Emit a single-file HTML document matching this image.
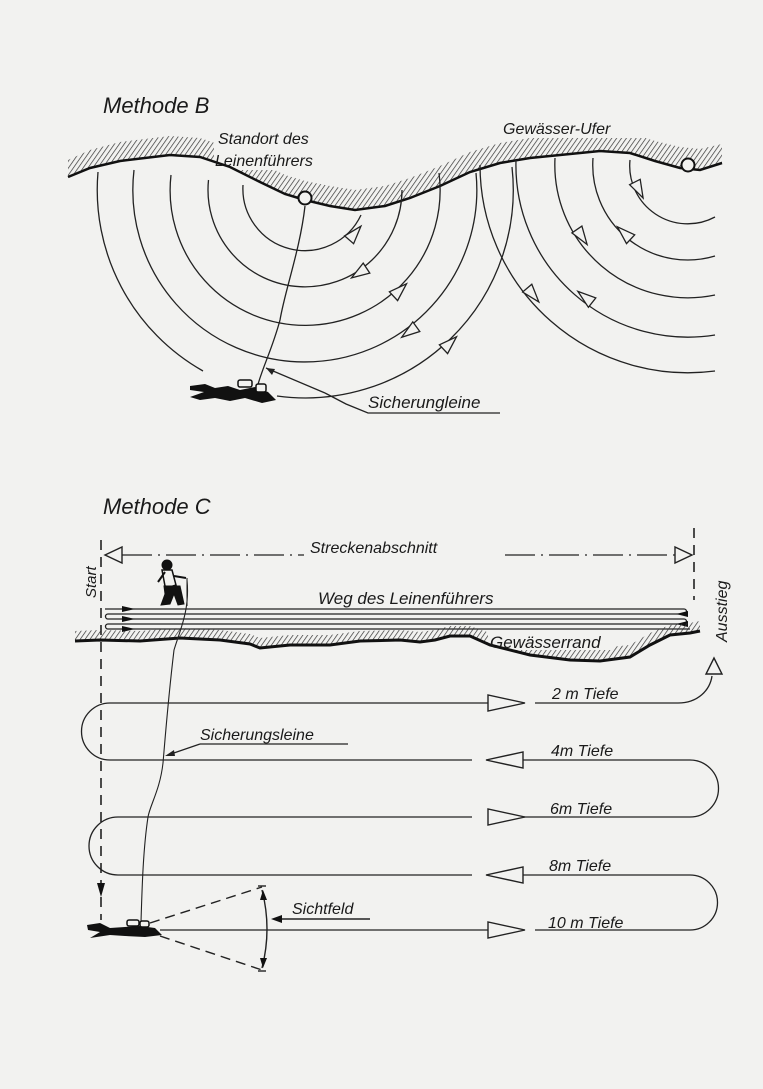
<!DOCTYPE html>
<html><head><meta charset="utf-8"><style>
html,body{margin:0;padding:0;background:#f2f2f0;}
svg{display:block;}
text{font-family:"Liberation Sans",sans-serif;font-style:italic;fill:#1a1a1a;}
</style></head><body>
<svg width="763" height="1089" viewBox="0 0 763 1089" xmlns="http://www.w3.org/2000/svg">
<defs>
<pattern id="h" width="4" height="4" patternUnits="userSpaceOnUse" patternTransform="rotate(35)">
<line x1="0" y1="0" x2="0" y2="4" stroke="#333" stroke-width="1.4"/>
</pattern>
</defs>
<rect width="763" height="1089" fill="#f2f2f0"/>

<!-- ===== Methode B ===== -->
<text x="103" y="113" font-size="22">Methode B</text>

<polygon fill="url(#h)" points="68,177 90,168 120,161 170,155 200,157 230,167 260,182 285,194 305,200 330,206 355,210 385,206 410,198 440,186 470,172 500,163 530,158 570,154 600,151 630,153 655,161 680,168 700,170 722,163 722,144 700,149 680,147 655,141 630,133 600,131 570,134 530,138 500,143 470,152 440,166 410,178 385,186 355,190 330,186 305,181 285,175 260,163 230,148 200,138 170,136 120,142 90,150 68,160"/>
<rect x="214" y="125" width="130" height="45" fill="#f2f2f0"/>
<rect x="500" y="118" width="150" height="20" fill="#f2f2f0"/>
<polyline fill="none" stroke="#111" stroke-width="2.5" points="68,177 90,168 120,161 170,155 200,157 230,167 260,182 285,194 305,200 330,206 355,210 385,206 410,198 440,186 470,172 500,163 530,158 570,154 600,151 630,153 655,161 680,168 700,170 722,163"/>
<text x="218" y="144" font-size="16">Standort des</text>
<text x="215" y="166" font-size="16">Leinenführers</text>
<text x="503" y="134" font-size="16">Gewässer-Ufer</text>

<g fill="none" stroke="#222" stroke-width="1.3">
<path d="M243,185 A62,62 0 0 0 361,215"/>
<path d="M208.5,180 A97,97 0 1 0 402,190"/>
<path d="M171,175 A135,135 0 1 0 439,173"/>
<path d="M134,170 A172,172 0 1 0 476,173"/>
<path d="M98,172 A208,208 0 0 0 203,371 M277,396 A208,208 0 0 0 512,167"/>
<path d="M630,160 A58,58 0 0 0 715,217"/>
<path d="M593,158 A95,95 0 0 0 715,256"/>
<path d="M555,158 A133,133 0 0 0 715,295"/>
<path d="M516,160 A172,172 0 0 0 715,335"/>
<path d="M480,165 A208,208 0 0 0 715,371"/>
<path d="M305,206 C300,250 285,290 280,320 C272,350 262,368 257,388"/>
<path d="M325,393 L266,368"/>
<path d="M325,393 L346,404 L368,413 L500,413"/>
</g>
<polygon points="266,368 275,369 272,375" fill="#222"/>
<circle cx="305" cy="198" r="6.5" fill="#f2f2f0" stroke="#111" stroke-width="2"/>
<circle cx="688" cy="165" r="6.5" fill="#f2f2f0" stroke="#111" stroke-width="2"/>

<g fill="#f2f2f0" stroke="#222" stroke-width="1.3">
<polygon points="360.9,226.2 353.6,243.7 344.6,235.9"/>
<polygon points="351.5,277.9 363.2,263.1 369.8,273.1"/>
<polygon points="406.5,283.8 397.6,300.6 389.4,291.8"/>
<polygon points="401.7,337.3 412.8,321.9 419.8,331.5"/>
<polygon points="456.5,336.8 447.6,353.6 439.4,344.8"/>
<polygon points="643.1,198 629.6,184.7 640.2,179.3"/>
<polygon points="587.1,244.5 571.9,232.9 581.9,226.1"/>
<polygon points="617.4,226.8 634.7,234.8 626.5,243.6"/>
<polygon points="538.8,301.9 522.6,292 531.8,284.2"/>
<polygon points="577.9,291.4 595.8,297.9 588.4,307.3"/>
</g>

<g fill="#111">
<path d="M190,386 L205,384 L215,388 L228,386 L240,390 L255,387 L268,392 L276,400 L262,403 L245,398 L230,401 L215,398 L200,400 L190,397 L204,392 L190,390 Z"/>
<rect x="238" y="380" width="14" height="7" rx="2" fill="#f2f2f0" stroke="#111" stroke-width="1.5"/>
<rect x="256" y="384" width="10" height="8" rx="2" fill="#f2f2f0" stroke="#111" stroke-width="1.5"/>
</g>
<text x="368" y="408" font-size="17">Sicherungleine</text>

<!-- ===== Methode C ===== -->
<text x="103" y="514" font-size="22">Methode C</text>

<g fill="none" stroke="#222" stroke-width="1.3">
<line x1="101" y1="540" x2="101" y2="920" stroke-dasharray="10,7" stroke-width="1.6"/>
<line x1="694" y1="528" x2="694" y2="600" stroke-dasharray="10,7" stroke-width="1.6"/>
<line x1="122" y1="555" x2="304" y2="555" stroke-dasharray="30,6,2,6"/>
<line x1="505" y1="555" x2="675" y2="555" stroke-dasharray="30,6,2,6"/>
</g>
<polygon points="105,555 122,547 122,563" fill="#f2f2f0" stroke="#222" stroke-width="1.4"/>
<polygon points="692,555 675,547 675,563" fill="#f2f2f0" stroke="#222" stroke-width="1.4"/>
<text x="310" y="553" font-size="16">Streckenabschnitt</text>
<text transform="translate(96,598) rotate(-90)" font-size="15">Start</text>
<text transform="translate(727,642) rotate(-90)" font-size="16">Ausstieg</text>

<g fill="#111" stroke="#111">
<circle cx="167" cy="565" r="5"/>
<path d="M162,570 L172,570 L176,585 L170,587 L165,586 Z" fill="#f2f2f0" stroke-width="1.5"/>
<path d="M158,582 L165,572" stroke-width="2"/>
<path d="M174,576 L186,578" stroke-width="2"/>
<path d="M164,586 L180,586 L184,604 L178,605 L174,594 L170,604 L161,605 L165,594 Z"/>
<path d="M187,578 L187,606" stroke-width="1"/>
</g>

<g fill="none" stroke="#222" stroke-width="1.3">
<path d="M105,609 H684 A2.5,2.5 0 0 1 684,614 H108 A2.5,2.5 0 0 0 108,619 H684 A2.5,2.5 0 0 1 684,624 H108 A2.5,2.5 0 0 0 108,629 H690"/>
</g>
<g fill="#111">
<polygon points="135,609 122,606 122,612"/>
<polygon points="135,619 122,616 122,622"/>
<polygon points="135,629 122,626 122,632"/>
<polygon points="676,614 688,611 688,617"/>
<polygon points="676,624 688,621 688,627"/>
</g>
<text x="318" y="604" font-size="17">Weg des Leinenführers</text>

<polygon fill="url(#h)" points="75,641 100,640 140,641 180,638 220,640 250,644 260,648 290,645 330,645 360,641 400,640 420,642 435,640 450,636 470,636 490,645 530,655 570,660 600,661 630,657 650,645 670,635 690,633 700,631 700,621 690,623 670,625 650,633 630,645 600,648 570,645 530,640 490,633 470,626 450,626 435,630 420,632 400,630 360,631 330,635 290,635 260,638 250,634 220,630 180,628 140,631 100,630 75,631"/>
<rect x="488" y="632" width="125" height="18" fill="#f2f2f0"/>
<polyline fill="none" stroke="#111" stroke-width="3" points="75,641 100,640 140,641 180,638 220,640 250,644 260,648 290,645 330,645 360,641 400,640 420,642 435,640 450,636 470,636 490,645 530,655 570,660 600,661 630,657 650,645 670,635 690,633 700,631"/>
<text x="490" y="648" font-size="17">Gewässerrand</text>

<path d="M187,580 C190,610 180,630 174,650 C168,700 165,740 163,763 C160,790 150,805 148,817 C143,850 142,890 141,922" fill="none" stroke="#222" stroke-width="1.1"/>

<g fill="none" stroke="#222" stroke-width="1.3">
<path d="M488,703 H110 A28.5,28.5 0 0 0 110,760 H472"/>
<path d="M535,703 H678 C698,703 710,690 712,676"/>
<path d="M523,760 H690 A28.5,28.5 0 0 1 690,817 H488"/>
<path d="M472,817 H118 A29,29 0 0 0 118,875 H472"/>
<path d="M523,875 H690 A27.5,27.5 0 0 1 690,930 H535"/>
<path d="M160,930 H488"/>
</g>
<g fill="#f2f2f0" stroke="#222" stroke-width="1.4">
<polygon points="714,658 706,674 722,674"/>
<polygon points="525,703 488,695 488,711"/>
<polygon points="486,760 523,752 523,768"/>
<polygon points="525,817 488,809 488,825"/>
<polygon points="486,875 523,867 523,883"/>
<polygon points="525,930 488,922 488,938"/>
</g>
<text x="552" y="699" font-size="16">2 m Tiefe</text>
<text x="551" y="756" font-size="16">4m  Tiefe</text>
<text x="550" y="814" font-size="16">6m  Tiefe</text>
<text x="549" y="871" font-size="16">8m Tiefe</text>
<text x="548" y="928" font-size="16">10 m  Tiefe</text>

<text x="200" y="740" font-size="16">Sicherungsleine</text>
<g fill="none" stroke="#222" stroke-width="1.2">
<line x1="200" y1="744" x2="348" y2="744"/>
<line x1="200" y1="744" x2="168" y2="755"/>
</g>
<polygon points="165,756 174,750 175,756" fill="#222"/>

<polygon points="101,897 97,883 105,883" fill="#111"/>

<g fill="#111">
<path d="M87,925 L100,923 L110,928 L125,927 L140,926 L155,928 L162,935 L145,937 L125,936 L110,935 L90,938 L100,932 L88,930 Z"/>
<rect x="127" y="920" width="12" height="6" rx="2" fill="#f2f2f0" stroke="#111" stroke-width="1.5"/>
<rect x="140" y="921" width="9" height="6" rx="2" fill="#f2f2f0" stroke="#111" stroke-width="1.5"/>
</g>

<g fill="none" stroke="#222" stroke-width="1.4">
<line x1="150" y1="923" x2="262" y2="887" stroke-dasharray="10,6"/>
<line x1="160" y1="936" x2="262" y2="970" stroke-dasharray="10,6"/>
<path d="M262,890 Q272,929 262,968"/>
<line x1="258" y1="886" x2="266" y2="886"/>
<line x1="258" y1="971" x2="266" y2="971"/>
<line x1="278" y1="919" x2="370" y2="919"/>
</g>
<g fill="#111">
<polygon points="263,890 260,900 267,900"/>
<polygon points="263,968 260,958 267,958"/>
<polygon points="271,919 282,915 282,923"/>
</g>
<text x="292" y="914" font-size="16">Sichtfeld</text>
</svg>
</body></html>
